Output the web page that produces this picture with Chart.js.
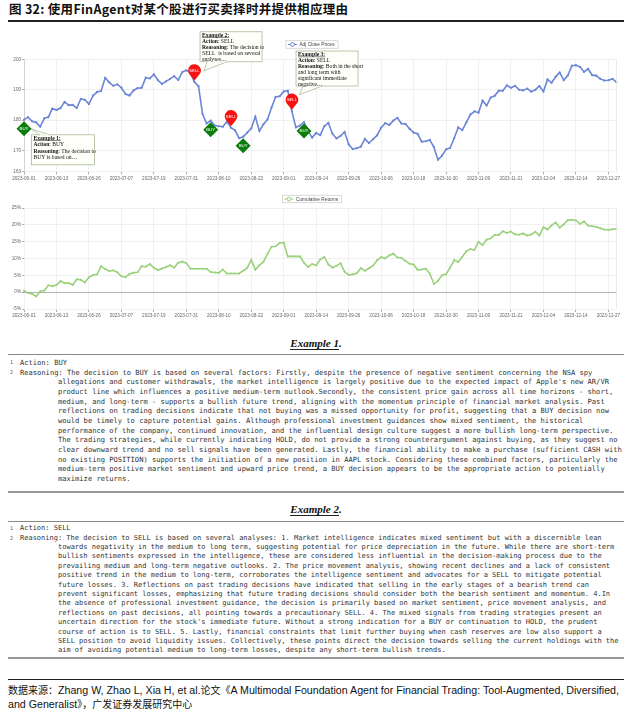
<!DOCTYPE html>
<html><head><meta charset="utf-8">
<script src="https://cdn.jsdelivr.net/npm/chart.js@4.4.1/dist/chart.umd.min.js"></script>
<style>
html,body{margin:0;padding:0;background:#fff;}
body{width:632px;height:715px;position:relative;overflow:hidden;}
#title{position:absolute;left:9px;top:1px;font:bold 12.5px "Noto Sans CJK SC","Liberation Sans",sans-serif;color:#111;white-space:nowrap;line-height:16px;letter-spacing:0.3px;}
.rule{position:absolute;left:8px;width:616px;}
.code{position:absolute;left:0;width:632px;font-family:"DejaVu Sans Mono",monospace;color:#333;white-space:pre;}
.code div{position:relative;}
.ln{position:absolute;left:10px;font-size:5px;color:#555;}
.t1{position:absolute;left:20px;}
.t2{position:absolute;left:58px;}
.ex{position:absolute;left:0;width:632px;text-align:center;font:italic bold 11px "Liberation Serif",serif;color:#111;line-height:13px;}
.ex span.u{border-bottom:1.3px solid #222;}
#foot{position:absolute;left:8px;top:683px;font:10.65px "Liberation Sans","Noto Sans CJK SC",sans-serif;color:#111;line-height:14px;white-space:nowrap;}
#foot .cn{font-family:"Noto Sans CJK SC",sans-serif;font-size:10px;}
canvas{position:absolute;left:0;}
</style></head>
<body>
<div id="title">图 32: 使用FinAgent对某个股进行买卖择时并提供相应理由</div>
<div class="rule" style="top:20px;height:1.5px;background:#222;"></div>
<canvas id="c1" width="632" height="160" style="top:30px;width:632px;height:160px;"></canvas>
<canvas id="c2" width="632" height="130" style="top:190px;width:632px;height:130px;"></canvas>

<div class="ex" style="top:337px;"><span class="u">Example 1</span>.</div>
<div class="rule" style="top:354px;height:1.2px;background:#888;"></div>
<div class="rule" style="top:491px;height:2px;background:#999;"></div>

<div class="ex" style="top:502.5px;"><span class="u">Example 2</span>.</div>
<div class="rule" style="top:520.5px;height:1.2px;background:#888;"></div>
<div class="rule" style="top:657px;height:2px;background:#999;"></div>

<div class="rule" style="top:678.5px;height:1.3px;background:#222;"></div>
<div id="foot"><span class="cn">数据来源：</span>Zhang W, Zhao L, Xia H, et al.<span class="cn">论文《</span>A Multimodal Foundation Agent for Financial Trading: Tool-Augmented, Diversified,<br>and Generalist<span class="cn">》，广发证券发展研究中心</span></div>

<script>
// ---------- DATA ----------
const dates = [
'2023-06-01','2023-06-02','2023-06-05','2023-06-06','2023-06-07','2023-06-08','2023-06-09','2023-06-12','2023-06-13','2023-06-14','2023-06-15','2023-06-16','2023-06-20','2023-06-21','2023-06-22','2023-06-23','2023-06-26','2023-06-27','2023-06-28','2023-06-29','2023-06-30',
'2023-07-03','2023-07-05','2023-07-06','2023-07-07','2023-07-10','2023-07-11','2023-07-12','2023-07-13','2023-07-14','2023-07-17','2023-07-18','2023-07-19','2023-07-20','2023-07-21','2023-07-24','2023-07-25','2023-07-26','2023-07-27','2023-07-28','2023-07-31',
'2023-08-01','2023-08-02','2023-08-03','2023-08-04','2023-08-07','2023-08-08','2023-08-09','2023-08-10','2023-08-11','2023-08-14','2023-08-15','2023-08-16','2023-08-17','2023-08-18','2023-08-21','2023-08-22','2023-08-23','2023-08-24','2023-08-25','2023-08-28','2023-08-29','2023-08-30','2023-08-31',
'2023-09-01','2023-09-05','2023-09-06','2023-09-07','2023-09-08','2023-09-11','2023-09-12','2023-09-13','2023-09-14','2023-09-15','2023-09-18','2023-09-19','2023-09-20','2023-09-21','2023-09-22','2023-09-25','2023-09-26','2023-09-27','2023-09-28','2023-09-29',
'2023-10-02','2023-10-03','2023-10-04','2023-10-05','2023-10-06','2023-10-09','2023-10-10','2023-10-11','2023-10-12','2023-10-13','2023-10-16','2023-10-17','2023-10-18','2023-10-19','2023-10-20','2023-10-23','2023-10-24','2023-10-25','2023-10-26','2023-10-27','2023-10-30','2023-10-31',
'2023-11-01','2023-11-02','2023-11-03','2023-11-06','2023-11-07','2023-11-08','2023-11-09','2023-11-10','2023-11-13','2023-11-14','2023-11-15','2023-11-16','2023-11-17','2023-11-20','2023-11-21','2023-11-22','2023-11-24','2023-11-27','2023-11-28','2023-11-29','2023-11-30',
'2023-12-01','2023-12-04','2023-12-05','2023-12-06','2023-12-07','2023-12-08','2023-12-11','2023-12-12','2023-12-13','2023-12-14','2023-12-15','2023-12-18','2023-12-19','2023-12-20','2023-12-21','2023-12-22','2023-12-26','2023-12-27','2023-12-28','2023-12-29'];

const adjClose = [
180.09,180.95,179.58,179.21,177.82,180.57,180.96,183.79,183.31,183.95,186.01,184.92,185.01,183.96,187.00,186.68,185.27,188.06,189.25,189.59,193.97,
192.46,191.33,191.81,190.68,188.61,188.08,189.77,190.54,190.69,193.99,193.73,195.10,193.13,191.94,192.75,193.62,194.50,193.22,195.83,196.45,
195.61,192.58,191.17,181.99,178.85,179.80,178.19,177.97,177.79,179.46,177.45,176.57,174.00,174.49,175.84,177.23,181.12,176.38,178.61,180.19,184.12,187.65,187.87,
189.46,189.70,182.91,177.56,178.18,179.36,176.30,174.21,175.74,175.01,177.97,179.07,175.49,173.93,174.79,176.08,171.96,170.43,170.69,171.21,
173.75,172.40,173.66,174.91,177.49,178.99,178.39,179.80,180.71,178.85,178.72,177.15,175.84,175.46,172.88,173.00,173.44,171.10,166.89,168.22,170.29,170.77,
173.97,177.57,176.65,179.23,181.82,182.89,182.41,186.40,184.80,187.44,188.01,189.71,189.69,191.45,190.64,191.31,189.97,189.79,190.40,189.37,189.95,
191.24,189.43,193.42,192.32,194.27,195.71,193.18,194.71,197.96,198.11,197.57,195.89,196.94,194.83,194.68,193.60,193.05,193.15,193.58,192.53];

const cumReturns = [
0.48,-0.28,-0.49,-1.26,0.27,0.48,2.05,1.79,2.14,3.29,2.68,2.73,2.15,3.84,3.66,2.88,4.43,5.09,5.28,7.71,6.87,
6.24,6.51,5.88,4.73,4.44,5.38,5.80,5.89,7.72,7.57,8.33,7.24,6.58,7.03,7.51,8.00,7.29,8.74,9.08,8.62,
6.94,6.94,6.94,6.94,6.94,5.98,5.85,5.74,6.74,5.54,5.54,5.54,5.54,6.36,7.20,9.55,6.68,8.03,8.99,11.37,13.50,13.63,
14.59,14.74,10.63,10.63,10.63,10.63,8.74,7.45,8.40,7.95,9.77,10.45,8.24,7.28,7.81,8.61,6.07,5.12,5.28,5.60,
7.17,6.34,7.11,7.88,9.48,10.40,10.03,10.90,11.46,10.31,10.23,9.27,8.46,8.22,6.63,6.71,6.98,5.53,2.4,3.3,5.04,5.33,
7.31,9.53,8.96,10.55,12.15,12.81,12.51,14.97,13.99,15.61,15.97,17.01,17.00,18.09,17.59,18.00,17.17,17.06,17.44,16.80,17.16,
17.96,16.84,19.30,18.62,19.83,20.71,19.15,20.10,21.4,21.5,21.3,20.3,21.0,19.8,19.6,19.4,19.0,18.6,18.5,18.7,18.8];

const priceTicks = [163,170,180,190,200];
const returnTicks = [-5,0,5,10,15,20,25];
const buyDates = ['2023-06-01','2023-08-08','2023-08-18','2023-09-11'];
const sellDates = ['2023-08-02','2023-08-15','2023-09-06'];

const ex1Lines = [
"Action: BUY",
"Reasoning: The decision to BUY is based on several factors: Firstly, despite the presence of negative sentiment concerning the NSA spy",
"allegations and customer withdrawals, the market intelligence is largely positive due to the expected impact of Apple's new AR/VR",
"product line which influences a positive medium-term outlook.Secondly, the consistent price gain across all time horizons - short,",
"medium, and long-term - supports a bullish future trend, aligning with the momentum principle of financial market analysis. Past",
"reflections on trading decisions indicate that not buying was a missed opportunity for profit, suggesting that a BUY decision now",
"would be timely to capture potential gains. Although professional investment guidances show mixed sentiment, the historical",
"performance of the company, continued innovation, and the influential design culture suggest a more bullish long-term perspective.",
"The trading strategies, while currently indicating HOLD, do not provide a strong counterargument against buying, as they suggest no",
"clear downward trend and no sell signals have been generated. Lastly, the financial ability to make a purchase (sufficient CASH with",
"no existing POSITION) supports the initiation of a new position in AAPL stock. Considering these combined factors, particularly the",
"medium-term positive market sentiment and upward price trend, a BUY decision appears to be the appropriate action to potentially",
"maximize returns."];
const ex2Lines = [
"Action: SELL",
"Reasoning: The decision to SELL is based on several analyses: 1. Market intelligence indicates mixed sentiment but with a discernible lean",
"towards negativity in the medium to long term, suggesting potential for price depreciation in the future. While there are short-term",
"bullish sentiments expressed in the intelligence, these are considered less influential in the decision-making process due to the",
"prevailing medium and long-term negative outlooks. 2. The price movement analysis, showing recent declines and a lack of consistent",
"positive trend in the medium to long-term, corroborates the intelligence sentiment and advocates for a SELL to mitigate potential",
"future losses. 3. Reflections on past trading decisions have indicated that selling in the early stages of a bearish trend can",
"prevent significant losses, emphasizing that future trading decisions should consider both the bearish sentiment and momentum. 4.In",
"the absence of professional investment guidance, the decision is primarily based on market sentiment, price movement analysis, and",
"reflections on past decisions, all pointing towards a precautionary SELL. 4. The mixed signals from trading strategies present an",
"uncertain direction for the stock's immediate future. Without a strong indication for a BUY or continuation to HOLD, the prudent",
"course of action is to SELL. 5. Lastly, financial constraints that limit further buying when cash reserves are low also support a",
"SELL position to avoid liquidity issues. Collectively, these points direct the decision towards selling the current holdings with the",
"aim of avoiding potential medium to long-term losses, despite any short-term bullish trends."];

// ---------- TEXT BLOCKS ----------
function buildBlock(lines, top, lh, fs){
  const wrap=document.createElement('div'); wrap.className='code';
  wrap.style.top=top+'px'; wrap.style.fontSize=fs+'px';
  lines.forEach((t,i)=>{
    const d=document.createElement('div'); d.style.height=lh+'px'; d.style.lineHeight=lh+'px';
    if(i<2){const n=document.createElement('span'); n.className='ln'; n.textContent=String(i+1); d.appendChild(n);}
    const s=document.createElement('span'); s.className=i<2?'t1':'t2'; s.textContent=t; d.appendChild(s);
    wrap.appendChild(d);
  });
  document.body.appendChild(wrap);
}
buildBlock(ex1Lines, 357.9, 9.7, 7.1);
buildBlock(ex2Lines, 524.3, 9.4, 7.0);

// ---------- CHARTS ----------
const BLUE='#6b86d6', GREEN='#9ad27c';
const tickFont={family:'"Liberation Sans", Arial, sans-serif', size:4.6};

function drawLegend(ctx, label, color, cx, cy){
  ctx.save();
  ctx.font='4.8px "Liberation Sans", Arial, sans-serif';
  const tw=ctx.measureText(label).width, w=tw+17, h=7.5, x0=cx-w/2, y0=cy-h/2;
  ctx.fillStyle='#fff'; ctx.strokeStyle='#c8c8c8'; ctx.lineWidth=0.7;
  ctx.fillRect(x0,y0,w,h); ctx.strokeRect(x0,y0,w,h);
  ctx.strokeStyle=color; ctx.lineWidth=1;
  ctx.beginPath(); ctx.moveTo(x0+2,cy); ctx.lineTo(x0+11,cy); ctx.stroke();
  ctx.beginPath(); ctx.arc(x0+6.5,cy,1.9,0,Math.PI*2); ctx.fillStyle='#fff'; ctx.fill(); ctx.stroke();
  ctx.fillStyle='#444'; ctx.textBaseline='middle'; ctx.fillText(label,x0+13.5,cy+0.3);
  ctx.restore();
}

const notes = [
  {kind:'buy', date:'2023-06-01', dx:7.5, dy:6, w:63, h:30, lh:6.5, tip:[7,0], base:'top', b0:8, b1:18,
   lines:[['Example 1:','',1],['Action',': BUY'],['Reasoning',': The decision to'],['','BUY is based on…']]},
  {kind:'sell', date:'2023-08-02', dx:5.6, dy:-38.7, w:62, h:30, lh:6.05, tip:[9.5,0.3], base:'bottom', b0:7, b1:27,
   lines:[['Example 2:','',1],['Action',': SELL'],['Reasoning',': The decision to'],['','SELL  is based on several'],['','analyses…']]},
  {kind:'sell', date:'2023-09-06', dx:4.2, dy:-48.7, w:62, h:35, lh:5.95, tip:[7.5,-5], base:'bottom', b0:7, b1:26,
   lines:[['Example 3:','',1],['Action',': SELL'],['Reasoning',': Both in the short'],['','and long term with'],['','significant immediate'],['','negative…']]}
];

const topPlugin = {
  id:'topDecor',
  afterDatasetsDraw(chart){
    const ctx=chart.ctx, xs=chart.scales.x, ys=chart.scales.y;
    const ca=chart.chartArea;
    ctx.save();
    ctx.strokeStyle='#e4e4e4'; ctx.lineWidth=0.8;
    ctx.beginPath(); ctx.moveTo(ca.right,ca.top); ctx.lineTo(ca.right,ca.bottom); ctx.stroke();
    buyDates.forEach(d=>{
      const i=dates.indexOf(d), px=xs.getPixelForValue(i), py=ys.getPixelForValue(adjClose[i])+9, r=7.5;
      ctx.beginPath(); ctx.moveTo(px,py-r); ctx.lineTo(px+r,py); ctx.lineTo(px,py+r); ctx.lineTo(px-r,py); ctx.closePath();
      ctx.fillStyle='#0b7d0b'; ctx.fill();
      ctx.fillStyle='#fff'; ctx.font='4.4px "Liberation Sans", Arial, sans-serif'; ctx.textAlign='center'; ctx.textBaseline='middle';
      ctx.fillText('BUY',px,py+0.3);
    });
    sellDates.forEach(d=>{
      const i=dates.indexOf(d), px=xs.getPixelForValue(i), py=ys.getPixelForValue(adjClose[i]);
      const hy=py-11.5, r=6.3, ty=py-1.5;
      ctx.beginPath(); ctx.arc(px,hy,r,Math.PI*0.78,Math.PI*2.22); ctx.lineTo(px,ty); ctx.closePath();
      ctx.fillStyle='#f51212'; ctx.fill();
      ctx.fillStyle='#fff'; ctx.font='4.2px "Liberation Sans", Arial, sans-serif'; ctx.textAlign='center'; ctx.textBaseline='middle';
      ctx.fillText('SELL',px,hy+0.3);
    });
    notes.forEach(n=>{
      const i=dates.indexOf(n.date), ax=xs.getPixelForValue(i);
      const ay = n.kind==='buy' ? ys.getPixelForValue(adjClose[i])+9 : ys.getPixelForValue(adjClose[i])-11.5;
      const bx=ax+n.dx, by=ay+n.dy, tx=ax+n.tip[0], ty=ay+n.tip[1];
      const edge = n.base==='top'? by : by+n.h;
      ctx.fillStyle='#fffffa'; ctx.strokeStyle='#a9ba98'; ctx.lineWidth=0.8;
      ctx.beginPath(); ctx.moveTo(bx+n.b0,edge); ctx.lineTo(tx,ty); ctx.lineTo(bx+n.b1,edge); ctx.closePath(); ctx.fill();
      ctx.fillRect(bx,by,n.w,n.h); ctx.strokeRect(bx,by,n.w,n.h);
      ctx.beginPath(); ctx.moveTo(bx+n.b0,edge); ctx.lineTo(tx,ty); ctx.lineTo(bx+n.b1,edge); ctx.stroke();
      ctx.fillStyle='#fffffa'; ctx.fillRect(bx+n.b0+0.6,edge-0.6,n.b1-n.b0-1.2,1.2);
      ctx.textAlign='left'; ctx.textBaseline='middle'; ctx.fillStyle='#111';
      n.lines.forEach((ln,k)=>{
        const yy=by+3.4+k*n.lh; let xx=bx+2;
        if(ln[0]){ ctx.font='bold 5.6px "Liberation Serif", serif'; ctx.fillText(ln[0],xx,yy);
          const w=ctx.measureText(ln[0]).width;
          if(ln[2]){ ctx.fillRect(xx,yy+2.2,w,0.5); }
          xx+=w; }
        if(ln[1]){ ctx.font='5.6px "Liberation Serif", serif'; ctx.fillText(ln[1],xx,yy); }
      });
    });
    drawLegend(ctx,'Adj Close Prices',BLUE,312,14.5);
    ctx.restore();
  }
};

const botPlugin = {
  id:'botDecor',
  afterDatasetsDraw(chart){
    const ctx=chart.ctx, ca=chart.chartArea;
    ctx.save();
    ctx.strokeStyle='#e4e4e4'; ctx.lineWidth=0.8;
    ctx.beginPath(); ctx.moveTo(ca.right,ca.top); ctx.lineTo(ca.right,ca.bottom); ctx.stroke();
    drawLegend(ctx,'Cumulative Returns',GREEN,312,9);
    ctx.restore();
  }
};

function xAxis(h){
  return {
    type:'category',
    grid:{color:'#ececec', lineWidth:0.8, tickLength:3, tickColor:'#999'},
    border:{display:false},
    ticks:{autoSkip:false, maxRotation:0, minRotation:0, padding:1, font:tickFont, color:'#666',
      callback:function(v,idx){ return idx%8===0 ? this.getLabelForValue(v) : null; }},
    afterFit(s){ s.height=h; }
  };
}

new Chart(document.getElementById('c1'),{
  type:'line',
  data:{labels:dates, datasets:[{label:'Adj Close Prices', data:adjClose, borderColor:BLUE, backgroundColor:BLUE,
    borderWidth:1.6, pointRadius:1.1, pointHoverRadius:1.1, pointBorderWidth:0, tension:0}]},
  options:{
    responsive:false, animation:false, devicePixelRatio:1,
    layout:{padding:{top:29.5,right:15.5,left:0,bottom:0}},
    plugins:{legend:{display:false}, tooltip:{enabled:false}},
    scales:{
      x:xAxis(18.5),
      y:{min:163,max:200,
        grid:{color:'#ececec',lineWidth:0.8,tickLength:2,tickColor:'#999'},
        border:{display:true,color:'#ccc',width:0.8},
        ticks:{font:tickFont,color:'#666',padding:1},
        afterBuildTicks(s){ s.ticks=priceTicks.map(v=>({value:v})); },
        afterFit(s){ s.width=24; }}
    }
  },
  plugins:[topPlugin]
});

new Chart(document.getElementById('c2'),{
  type:'line',
  data:{labels:dates, datasets:[{label:'Cumulative Returns', data:cumReturns, borderColor:GREEN, backgroundColor:GREEN,
    borderWidth:1.6, pointRadius:1.0, pointHoverRadius:1.0, pointBorderWidth:0, tension:0}]},
  options:{
    responsive:false, animation:false, devicePixelRatio:1,
    layout:{padding:{top:18,right:15.5,left:0,bottom:0}},
    plugins:{legend:{display:false}, tooltip:{enabled:false}},
    scales:{
      x:xAxis(11),
      y:{min:-5,max:25,
        grid:{color:(c)=>c.tick && c.tick.value===0 ? '#b4b4b4' : '#ececec', lineWidth:(c)=>c.tick && c.tick.value===0 ? 1.1 : 0.8, tickLength:2, tickColor:'#999'},
        border:{display:false},
        ticks:{font:tickFont,color:'#666',padding:1, callback:(v)=>v+'%'},
        afterBuildTicks(s){ s.ticks=returnTicks.map(v=>({value:v})); },
        afterFit(s){ s.width=24; }}
    }
  },
  plugins:[botPlugin]
});
</script>
</body></html>
